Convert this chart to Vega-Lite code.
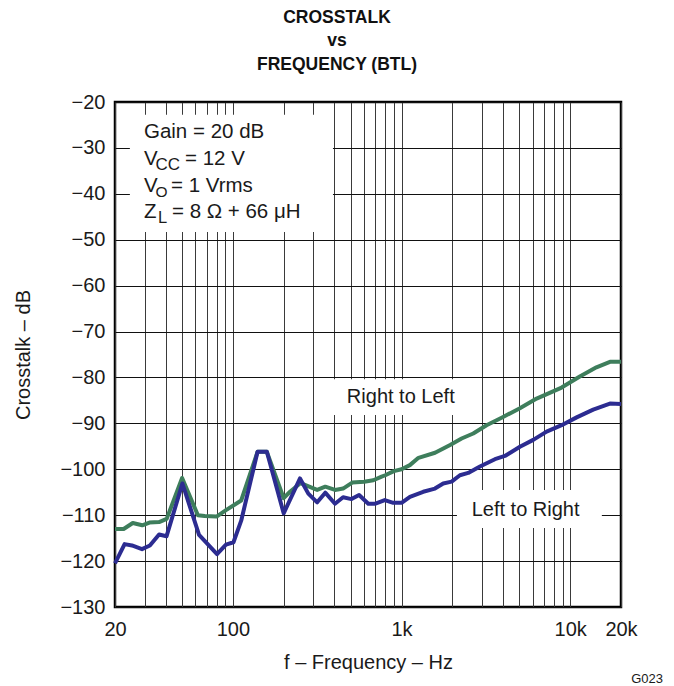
{
  "$schema": "https://vega.github.io/schema/vega-lite/v6.json",
  "width": 506,
  "height": 505,
  "autosize": {"type": "none"},
  "padding": {"left": 115, "top": 102, "right": 53, "bottom": 79},
  "background": "white",
  "config": {
    "view": {"stroke": "#000", "strokeWidth": 2.5},
    "font": "Liberation Sans",
    "text": {"font": "Liberation Sans"},
    "axisX": {
      "values": [20, 30, 40, 50, 60, 70, 80, 90, 100, 200, 300, 400, 500, 600, 700, 800, 900, 1000, 2000, 3000, 4000, 5000, 6000, 7000, 8000, 9000, 10000, 20000],
      "labelExpr": "datum.value == 20 ? '20' : datum.value == 100 ? '100' : datum.value == 1000 ? '1k' : datum.value == 10000 ? '10k' : datum.value == 20000 ? '20k' : ''",
      "labelOverlap": false,
      "labelFlush": false,
      "labelFont": "Liberation Sans",
      "labelFontSize": 20,
      "labelColor": "#1a1a1a",
      "labelPadding": 12,
      "ticks": false,
      "domain": false,
      "grid": true,
      "gridColor": "#3a3a3a",
      "gridWidth": 1,
      "gridOpacity": 1,
      "titleFont": "Liberation Sans",
      "titleFontSize": 20,
      "titleFontWeight": "normal",
      "titleColor": "#1a1a1a",
      "titlePadding": 13
    },
    "axisY": {
      "values": [-130, -120, -110, -100, -90, -80, -70, -60, -50, -40, -30, -20],
      "format": "d",
      "labelFont": "Liberation Sans",
      "labelFontSize": 20,
      "labelColor": "#1a1a1a",
      "labelPadding": 10,
      "ticks": false,
      "domain": false,
      "grid": true,
      "gridColor": "#111",
      "gridWidth": 1,
      "gridOpacity": 1,
      "titleFont": "Liberation Sans",
      "titleFontSize": 20,
      "titleFontWeight": "normal",
      "titleColor": "#1a1a1a",
      "titlePadding": 26
    }
  },
  "title": {
    "text": ["CROSSTALK", "vs", "FREQUENCY (BTL)"],
    "font": "Liberation Sans",
    "fontSize": 17.5,
    "fontWeight": "bold",
    "color": "#111",
    "lineHeight": 23.5,
    "anchor": "middle",
    "dx": -31,
    "offset": 19
  },
  "layer": [
    {
      "data": {"values": [{}]},
      "mark": {"type": "rect", "fill": "white"},
      "encoding": {
        "x": {"datum": 24.5, "type": "quantitative", "scale": {"type": "log", "domain": [20, 20000], "nice": false}, "title": "f – Frequency – Hz"},
        "x2": {"datum": 392},
        "y": {"datum": -22.8, "type": "quantitative", "scale": {"domain": [-130, -20], "nice": false, "zero": false}, "title": "Crosstalk – dB"},
        "y2": {"datum": -48.3}
      }
    },
    {
      "data": {"values": [{}]},
      "mark": {"type": "rect", "fill": "white"},
      "encoding": {
        "x": {"datum": 337, "type": "quantitative", "scale": {"type": "log", "domain": [20, 20000], "nice": false}, "title": "f – Frequency – Hz"},
        "x2": {"datum": 2544},
        "y": {"datum": -80.4, "type": "quantitative", "scale": {"domain": [-130, -20], "nice": false, "zero": false}, "title": "Crosstalk – dB"},
        "y2": {"datum": -88.2}
      }
    },
    {
      "data": {"values": [{}]},
      "mark": {"type": "rect", "fill": "white"},
      "encoding": {
        "x": {"datum": 2130, "type": "quantitative", "scale": {"type": "log", "domain": [20, 20000], "nice": false}, "title": "f – Frequency – Hz"},
        "x2": {"datum": 15400},
        "y": {"datum": -104.5, "type": "quantitative", "scale": {"domain": [-130, -20], "nice": false, "zero": false}, "title": "Crosstalk – dB"},
        "y2": {"datum": -112.8}
      }
    },
    {
      "data": {"values": [
        {"f": 20, "db": -113.0, "s": "Right to Left"},
        {"f": 22.5, "db": -113.0, "s": "Right to Left"},
        {"f": 25.5, "db": -111.7, "s": "Right to Left"},
        {"f": 29, "db": -112.2, "s": "Right to Left"},
        {"f": 32, "db": -111.6, "s": "Right to Left"},
        {"f": 36.5, "db": -111.5, "s": "Right to Left"},
        {"f": 40.5, "db": -110.8, "s": "Right to Left"},
        {"f": 50, "db": -101.9, "s": "Right to Left"},
        {"f": 62, "db": -110.0, "s": "Right to Left"},
        {"f": 68, "db": -110.2, "s": "Right to Left"},
        {"f": 80, "db": -110.3, "s": "Right to Left"},
        {"f": 91, "db": -108.9, "s": "Right to Left"},
        {"f": 112, "db": -106.8, "s": "Right to Left"},
        {"f": 140, "db": -96.2, "s": "Right to Left"},
        {"f": 159, "db": -96.2, "s": "Right to Left"},
        {"f": 200, "db": -106.3, "s": "Right to Left"},
        {"f": 218, "db": -104.9, "s": "Right to Left"},
        {"f": 252, "db": -103.0, "s": "Right to Left"},
        {"f": 316, "db": -104.5, "s": "Right to Left"},
        {"f": 353, "db": -103.8, "s": "Right to Left"},
        {"f": 403, "db": -104.5, "s": "Right to Left"},
        {"f": 450, "db": -104.2, "s": "Right to Left"},
        {"f": 510, "db": -102.9, "s": "Right to Left"},
        {"f": 600, "db": -102.7, "s": "Right to Left"},
        {"f": 680, "db": -102.4, "s": "Right to Left"},
        {"f": 762, "db": -101.6, "s": "Right to Left"},
        {"f": 800, "db": -101.3, "s": "Right to Left"},
        {"f": 900, "db": -100.4, "s": "Right to Left"},
        {"f": 1000, "db": -100.0, "s": "Right to Left"},
        {"f": 1120, "db": -99.1, "s": "Right to Left"},
        {"f": 1260, "db": -97.5, "s": "Right to Left"},
        {"f": 1580, "db": -96.4, "s": "Right to Left"},
        {"f": 1940, "db": -94.7, "s": "Right to Left"},
        {"f": 2270, "db": -93.3, "s": "Right to Left"},
        {"f": 2660, "db": -92.2, "s": "Right to Left"},
        {"f": 3190, "db": -90.4, "s": "Right to Left"},
        {"f": 4000, "db": -88.6, "s": "Right to Left"},
        {"f": 5030, "db": -86.7, "s": "Right to Left"},
        {"f": 6320, "db": -84.6, "s": "Right to Left"},
        {"f": 8890, "db": -82.2, "s": "Right to Left"},
        {"f": 11400, "db": -79.8, "s": "Right to Left"},
        {"f": 14300, "db": -77.8, "s": "Right to Left"},
        {"f": 17200, "db": -76.6, "s": "Right to Left"},
        {"f": 20000, "db": -76.6, "s": "Right to Left"},
        {"f": 20, "db": -120.5, "s": "Left to Right"},
        {"f": 22.8, "db": -116.3, "s": "Left to Right"},
        {"f": 25.2, "db": -116.6, "s": "Left to Right"},
        {"f": 28.9, "db": -117.4, "s": "Left to Right"},
        {"f": 32.2, "db": -116.6, "s": "Left to Right"},
        {"f": 36.5, "db": -114.2, "s": "Left to Right"},
        {"f": 40.4, "db": -114.6, "s": "Left to Right"},
        {"f": 50.2, "db": -103.1, "s": "Left to Right"},
        {"f": 63, "db": -114.3, "s": "Left to Right"},
        {"f": 80.5, "db": -118.5, "s": "Left to Right"},
        {"f": 91, "db": -116.4, "s": "Left to Right"},
        {"f": 100.8, "db": -115.9, "s": "Left to Right"},
        {"f": 112, "db": -111.2, "s": "Left to Right"},
        {"f": 140, "db": -96.2, "s": "Left to Right"},
        {"f": 159, "db": -96.2, "s": "Left to Right"},
        {"f": 200, "db": -109.6, "s": "Left to Right"},
        {"f": 250, "db": -102.0, "s": "Left to Right"},
        {"f": 280, "db": -105.3, "s": "Left to Right"},
        {"f": 316, "db": -107.2, "s": "Left to Right"},
        {"f": 353, "db": -105.1, "s": "Left to Right"},
        {"f": 403, "db": -107.5, "s": "Left to Right"},
        {"f": 450, "db": -106.1, "s": "Left to Right"},
        {"f": 505, "db": -106.5, "s": "Left to Right"},
        {"f": 560, "db": -105.6, "s": "Left to Right"},
        {"f": 635, "db": -107.5, "s": "Left to Right"},
        {"f": 700, "db": -107.5, "s": "Left to Right"},
        {"f": 795, "db": -106.7, "s": "Left to Right"},
        {"f": 893, "db": -107.3, "s": "Left to Right"},
        {"f": 1000, "db": -107.3, "s": "Left to Right"},
        {"f": 1121, "db": -106.0, "s": "Left to Right"},
        {"f": 1344, "db": -104.9, "s": "Left to Right"},
        {"f": 1577, "db": -104.2, "s": "Left to Right"},
        {"f": 1766, "db": -103.1, "s": "Left to Right"},
        {"f": 1981, "db": -102.7, "s": "Left to Right"},
        {"f": 2218, "db": -101.3, "s": "Left to Right"},
        {"f": 2484, "db": -100.8, "s": "Left to Right"},
        {"f": 2916, "db": -99.4, "s": "Left to Right"},
        {"f": 3578, "db": -97.8, "s": "Left to Right"},
        {"f": 4100, "db": -97.1, "s": "Left to Right"},
        {"f": 5032, "db": -95.1, "s": "Left to Right"},
        {"f": 6034, "db": -93.6, "s": "Left to Right"},
        {"f": 7244, "db": -91.8, "s": "Left to Right"},
        {"f": 8891, "db": -90.4, "s": "Left to Right"},
        {"f": 10914, "db": -88.7, "s": "Left to Right"},
        {"f": 13684, "db": -87.0, "s": "Left to Right"},
        {"f": 17192, "db": -85.7, "s": "Left to Right"},
        {"f": 20000, "db": -85.8, "s": "Left to Right"}
      ]},
      "mark": {"type": "line", "strokeWidth": 4, "strokeJoin": "round", "strokeCap": "butt"},
      "encoding": {
        "x": {"field": "f", "type": "quantitative", "scale": {"type": "log", "domain": [20, 20000], "nice": false}, "title": "f – Frequency – Hz"},
        "y": {"field": "db", "type": "quantitative", "scale": {"domain": [-130, -20], "nice": false, "zero": false}, "title": "Crosstalk – dB"},
        "color": {
          "field": "s", "type": "nominal",
          "scale": {"domain": ["Right to Left", "Left to Right"], "range": ["#3e7e5c", "#2c2c91"]},
          "legend": null
        },
        "detail": {"field": "s"}
      }
    },
    {
      "data": {"values": [{}]},
      "mark": {"type": "text", "align": "left", "baseline": "alphabetic", "fontSize": 20.5, "color": "#1a1a1a"},
      "encoding": {
        "x": {"datum": 29.7, "type": "quantitative", "title": "f – Frequency – Hz"},
        "y": {"datum": -27.9, "type": "quantitative", "title": "Crosstalk – dB"},
        "text": {"value": "Gain = 20 dB"}
      }
    },
    {
      "data": {"values": [{}]},
      "mark": {"type": "text", "align": "left", "baseline": "alphabetic", "fontSize": 20.5, "color": "#1a1a1a"},
      "encoding": {
        "x": {"datum": 29.7, "type": "quantitative", "title": "f – Frequency – Hz"},
        "y": {"datum": -33.7, "type": "quantitative", "title": "Crosstalk – dB"},
        "text": {"value": "V"}
      }
    },
    {
      "data": {"values": [{}]},
      "mark": {"type": "text", "align": "left", "baseline": "alphabetic", "fontSize": 17, "dx": 11.5, "dy": 5, "color": "#1a1a1a"},
      "encoding": {
        "x": {"datum": 29.7, "type": "quantitative", "title": "f – Frequency – Hz"},
        "y": {"datum": -33.7, "type": "quantitative", "title": "Crosstalk – dB"},
        "text": {"value": "CC"}
      }
    },
    {
      "data": {"values": [{}]},
      "mark": {"type": "text", "align": "left", "baseline": "alphabetic", "fontSize": 20.5, "dx": 41, "color": "#1a1a1a"},
      "encoding": {
        "x": {"datum": 29.7, "type": "quantitative", "title": "f – Frequency – Hz"},
        "y": {"datum": -33.7, "type": "quantitative", "title": "Crosstalk – dB"},
        "text": {"value": "= 12 V"}
      }
    },
    {
      "data": {"values": [{}]},
      "mark": {"type": "text", "align": "left", "baseline": "alphabetic", "fontSize": 20.5, "color": "#1a1a1a"},
      "encoding": {
        "x": {"datum": 29.7, "type": "quantitative", "title": "f – Frequency – Hz"},
        "y": {"datum": -39.5, "type": "quantitative", "title": "Crosstalk – dB"},
        "text": {"value": "V"}
      }
    },
    {
      "data": {"values": [{}]},
      "mark": {"type": "text", "align": "left", "baseline": "alphabetic", "fontSize": 15.5, "dx": 11.5, "dy": 5, "color": "#1a1a1a"},
      "encoding": {
        "x": {"datum": 29.7, "type": "quantitative", "title": "f – Frequency – Hz"},
        "y": {"datum": -39.5, "type": "quantitative", "title": "Crosstalk – dB"},
        "text": {"value": "O"}
      }
    },
    {
      "data": {"values": [{}]},
      "mark": {"type": "text", "align": "left", "baseline": "alphabetic", "fontSize": 20.5, "dx": 27, "color": "#1a1a1a"},
      "encoding": {
        "x": {"datum": 29.7, "type": "quantitative", "title": "f – Frequency – Hz"},
        "y": {"datum": -39.5, "type": "quantitative", "title": "Crosstalk – dB"},
        "text": {"value": "= 1 Vrms"}
      }
    },
    {
      "data": {"values": [{}]},
      "mark": {"type": "text", "align": "left", "baseline": "alphabetic", "fontSize": 20.5, "color": "#1a1a1a"},
      "encoding": {
        "x": {"datum": 29.7, "type": "quantitative", "title": "f – Frequency – Hz"},
        "y": {"datum": -45.3, "type": "quantitative", "title": "Crosstalk – dB"},
        "text": {"value": "Z"}
      }
    },
    {
      "data": {"values": [{}]},
      "mark": {"type": "text", "align": "left", "baseline": "alphabetic", "fontSize": 16.5, "dx": 14, "dy": 5, "color": "#1a1a1a"},
      "encoding": {
        "x": {"datum": 29.7, "type": "quantitative", "title": "f – Frequency – Hz"},
        "y": {"datum": -45.3, "type": "quantitative", "title": "Crosstalk – dB"},
        "text": {"value": "L"}
      }
    },
    {
      "data": {"values": [{}]},
      "mark": {"type": "text", "align": "left", "baseline": "alphabetic", "fontSize": 20.5, "dx": 28, "color": "#1a1a1a"},
      "encoding": {
        "x": {"datum": 29.7, "type": "quantitative", "title": "f – Frequency – Hz"},
        "y": {"datum": -45.3, "type": "quantitative", "title": "Crosstalk – dB"},
        "text": {"value": "= 8 Ω + 66 μH"}
      }
    },
    {
      "data": {"values": [{}]},
      "mark": {"type": "text", "align": "left", "baseline": "alphabetic", "fontSize": 20, "color": "#1a1a1a"},
      "encoding": {
        "x": {"datum": 474, "type": "quantitative", "title": "f – Frequency – Hz"},
        "y": {"datum": -85.6, "type": "quantitative", "title": "Crosstalk – dB"},
        "text": {"value": "Right to Left"}
      }
    },
    {
      "data": {"values": [{}]},
      "mark": {"type": "text", "align": "left", "baseline": "alphabetic", "fontSize": 20, "color": "#1a1a1a"},
      "encoding": {
        "x": {"datum": 2604, "type": "quantitative", "title": "f – Frequency – Hz"},
        "y": {"datum": -110.1, "type": "quantitative", "title": "Crosstalk – dB"},
        "text": {"value": "Left to Right"}
      }
    },
    {
      "data": {"values": [{}]},
      "mark": {"type": "text", "align": "left", "baseline": "alphabetic", "fontSize": 13, "color": "#1a1a1a"},
      "encoding": {
        "x": {"datum": 23000, "type": "quantitative", "title": "f – Frequency – Hz"},
        "y": {"datum": -146.6, "type": "quantitative", "title": "Crosstalk – dB"},
        "text": {"value": "G023"}
      }
    }
  ]
}
